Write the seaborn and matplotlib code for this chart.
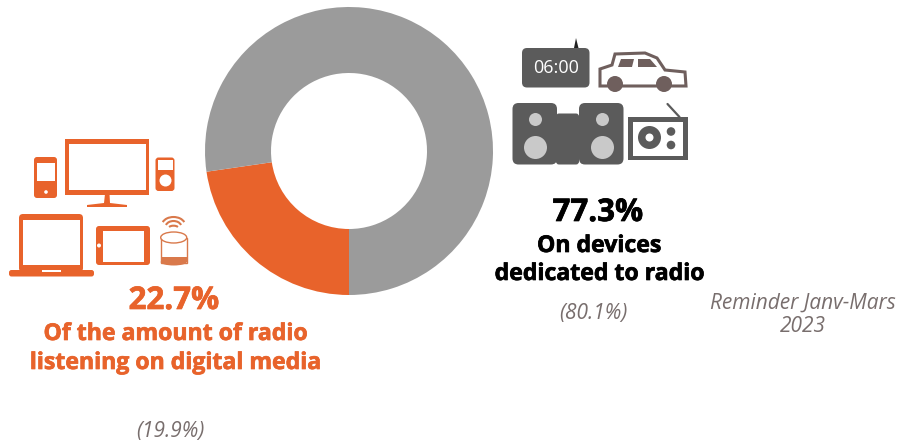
import matplotlib
matplotlib.use("Agg")
import matplotlib.pyplot as plt
import matplotlib.patheffects as pe
import seaborn as sns
from matplotlib.patches import Circle, Ellipse, FancyBboxPatch, Polygon, Rectangle, Arc

# Share of radio listening by device type
segments = ["Digital media", "Devices dedicated to radio"]
shares = [22.7, 77.3]
previous = ["(19.9%)", "(80.1%)"]

ORANGE = "#e8632b"
GREY = "#9b9b9b"
DARK = "#5b5b5b"
LIGHT = "#c9c9c9"
CAR = "#6f5f5d"
NOTE = "#786e6d"
SOFT = "#d9794b"

sns.set_theme(style="white", palette=sns.color_palette([ORANGE, GREY]))
plt.rcParams["font.family"] = ["Open Sans", "DejaVu Sans"]

W, H = 898, 441
fig = plt.figure(figsize=(W / 100, H / 100), dpi=100, facecolor="white")

# Full-figure layer measured in pixels, used for icons and captions
ax = fig.add_axes([0, 0, 1, 1])
ax.set_xlim(0, W)
ax.set_ylim(H, 0)
ax.axis("off")

# Donut
cx, cy, r = 349, 151, 144
pie_ax = fig.add_axes([(cx - r) / W, 1 - (cy + r) / H, 2 * r / W, 2 * r / H])
pie_ax.pie(shares, colors=sns.color_palette(), startangle=270, counterclock=False,
           radius=1, wedgeprops=dict(width=1 - 78 / r, linewidth=0))
pie_ax.set_xlim(-1, 1)
pie_ax.set_ylim(-1, 1)
pie_ax.set_aspect("equal")


def rrect(x0, y0, x1, y1, rad, fc, ec="none", lw=0, z=2):
    ax.add_patch(FancyBboxPatch((x0 + rad, y0 + rad), x1 - x0 - 2 * rad, y1 - y0 - 2 * rad,
                                boxstyle=f"round,pad={rad},rounding_size={rad}",
                                fc=fc, ec=ec, lw=lw, zorder=z))


def rect(x0, y0, x1, y1, fc, z=3):
    ax.add_patch(Rectangle((x0, y0), x1 - x0, y1 - y0, fc=fc, ec="none", zorder=z))


def disc(x, y, rad, fc, z=3):
    ax.add_patch(Circle((x, y), rad, fc=fc, ec="none", zorder=z))


def poly(pts, fc, ec="none", lw=0, z=3):
    ax.add_patch(Polygon(pts, closed=True, fc=fc, ec=ec, lw=lw, zorder=z, joinstyle="miter"))


# Alarm clock
rrect(522, 48, 589.5, 87.5, 5, DARK)
poly([(574, 48), (578.5, 48), (576, 38)], "#222222")
ax.text(556, 68, "06:00", color="white", fontsize=13, ha="center", va="center", zorder=4)

# Car
poly([(600, 69), (612, 65), (615, 54), (645, 53), (657, 58), (665, 70), (685, 72),
      (686, 86), (600, 86)], "white", ec=CAR, lw=2.2)
disc(615, 84, 8, CAR, 4)
disc(664, 84, 8, CAR, 4)
poly([(621, 59), (634, 59), (632, 67), (618, 67)], CAR)
poly([(638, 59), (650, 59), (657, 67), (638, 67)], CAR)

# Hi-fi system
rrect(512.5, 103, 557, 164.5, 6, DARK)
rrect(556, 113.5, 579, 164.5, 3, DARK)
rrect(579, 103, 623.5, 164.5, 6, DARK)
for sx in (535.5, 602.5):
    disc(sx, 119.5, 6.5, LIGHT)
    disc(sx, 147.5, 11.5, LIGHT)

# Portable radio
rect(628, 116.5, 687.5, 160, DARK, 2)
rect(632.5, 121.5, 683, 156, "white", 3)
ax.plot([667.5, 679.5], [104, 117], color=DARK, lw=1.6, zorder=2)
disc(649.5, 137.5, 11.5, DARK)
disc(649.5, 137.5, 4, "white", 4)
disc(671, 131.5, 4.3, DARK)
disc(671, 145, 4.3, DARK)

# Monitor
rect(65, 138.5, 148.5, 194.5, ORANGE, 2)
rect(68.5, 143.5, 145.5, 189.5, "white")
poly([(105, 194), (109.5, 194), (110, 203), (127, 205), (127, 207), (87, 207), (87, 205), (104, 203)], ORANGE)

# Phone
rrect(34, 157, 57, 198, 3, ORANGE)
rect(37, 162.5, 55, 180.5, "white")
disc(46, 192, 1.8, "white")

# Music player
rrect(155.5, 157.5, 174.5, 191, 3, ORANGE)
rect(158, 160, 172.5, 170, "white")
disc(165.5, 180.5, 6, "white")

# Laptop
rrect(19, 214, 83, 272, 4, ORANGE)
rect(22.5, 219.5, 80, 265, "white")
rrect(9, 270, 94, 276.5, 2.5, ORANGE)
rect(42, 270, 61, 272, "white")

# Tablet
rrect(96, 226, 150, 265, 3, ORANGE)
rect(102.5, 231, 144, 261.5, "white")
disc(99, 245.5, 2, "white")

# Smart speaker with wifi arcs
ax.add_patch(Rectangle((160.7, 237.5), 26, 25, fc="white", ec=SOFT, lw=1, zorder=2))
ax.add_patch(Ellipse((173.7, 262), 26, 7, fc=SOFT, ec="none", zorder=2))
rect(160.7, 257, 186.7, 262, SOFT, 3)
ax.add_patch(Ellipse((173.7, 237.5), 26, 11, fc="white", ec=SOFT, lw=1, zorder=4))
for wid, hgt, mid in ((23, 16, 225), (16, 12, 227), (10, 5, 228.2)):
    ax.add_patch(Arc((173.5, mid), wid, hgt, theta1=195, theta2=345,
                     color=SOFT, lw=1.5, zorder=4))

# Captions
heavy = [pe.withStroke(linewidth=0.5, foreground="black")]
heavy_or = [pe.withStroke(linewidth=0.5, foreground=ORANGE)]
big = dict(ha="center", va="center", fontweight="bold")
ax.text(598, 213, f"{shares[1]}%", color="black", fontsize=22.5, path_effects=heavy, **big)
ax.text(599, 246, "On devices", color="black", fontsize=16.6, path_effects=heavy, **big)
ax.text(599, 274, "dedicated to radio", color="black", fontsize=16.6, path_effects=heavy, **big)
ax.text(174, 301, f"{shares[0]}%", color=ORANGE, fontsize=22.5, path_effects=heavy_or, **big)
ax.text(175, 334, "Of the amount of radio", color=ORANGE, fontsize=16.6, path_effects=heavy_or, **big)
ax.text(175, 363, "listening on digital media", color=ORANGE, fontsize=16.6, path_effects=heavy_or, **big)

note = dict(ha="center", va="center", style="italic", color=NOTE, fontsize=15)
ax.text(593, 313, previous[1], **note)
ax.text(170, 431, previous[0], **note)
ax.text(803, 303, "Reminder Janv-Mars", **note)
ax.text(803, 327, "2023", **note)

fig.savefig("out.png", dpi=100, facecolor="white")
